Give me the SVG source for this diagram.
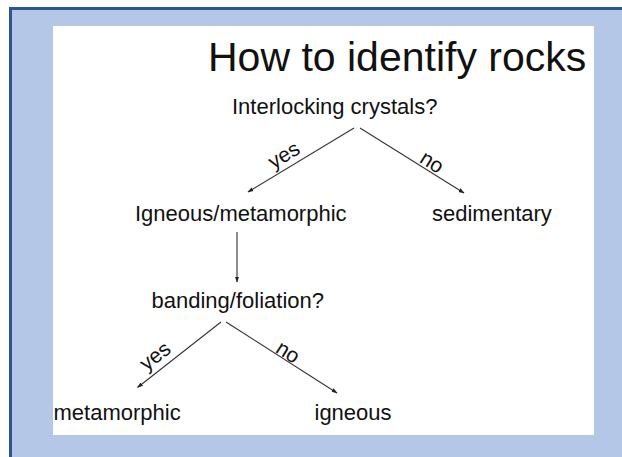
<svg xmlns="http://www.w3.org/2000/svg" width="622" height="457" viewBox="0 0 622 457">
<defs>
<style>
.t{font-family:"Liberation Sans",Arial,Helvetica,sans-serif;font-size:22px;fill:#111}
.title{font-family:"Liberation Sans",Arial,Helvetica,sans-serif;font-size:41px;fill:#111}
.lbl{font-family:"Liberation Sans",Arial,Helvetica,sans-serif;font-size:21px;fill:#111;text-anchor:middle}
.c{stroke:#333;stroke-width:1.1;fill:none;marker-end:url(#ah)}
</style>
<marker id="ah" viewBox="0 0 10 10" refX="9" refY="5" markerWidth="6" markerHeight="6" markerUnits="userSpaceOnUse" orient="auto">
<path d="M0,1.5 L10,5 L0,8.5 Z" fill="#222"/>
</marker>
</defs>
<rect x="0" y="0" width="622" height="457" fill="#ffffff"/>
<rect x="10.5" y="8.5" width="620" height="460" fill="#b4c7e7" stroke="#2f5496" stroke-width="3"/>
<rect x="53" y="26" width="541" height="409" fill="#ffffff"/>
<g id="title"><text class="title" x="208" y="71">How to identify rocks</text></g>
<g id="connectors">
<line class="c" x1="354" y1="128" x2="248" y2="192"/>
<line class="c" x1="360" y1="128" x2="464" y2="193"/>
<line class="c" x1="237" y1="232" x2="237" y2="282"/>
<line class="c" x1="221" y1="322" x2="137.5" y2="387.5"/>
<line class="c" x1="226" y1="322" x2="337" y2="393"/>
<text class="lbl" transform="translate(284,155) rotate(-31)" y="7">yes</text>
<text class="lbl" transform="translate(432,162) rotate(32)" y="7">no</text>
<text class="lbl" transform="translate(155,356) rotate(-38)" y="7">yes</text>
<text class="lbl" transform="translate(288,352) rotate(32)" y="7">no</text>
</g>
<g id="n-interlocking"><text class="t" x="232" y="114">Interlocking crystals?</text></g>
<g id="n-igneous-metamorphic"><text class="t" x="135" y="221">Igneous/metamorphic</text></g>
<g id="n-sedimentary"><text class="t" x="432" y="221">sedimentary</text></g>
<g id="n-banding"><text class="t" x="151.5" y="308">banding/foliation?</text></g>
<g id="n-metamorphic"><text class="t" x="53.5" y="420">metamorphic</text></g>
<g id="n-igneous"><text class="t" x="314.5" y="420">igneous</text></g>
</svg>
